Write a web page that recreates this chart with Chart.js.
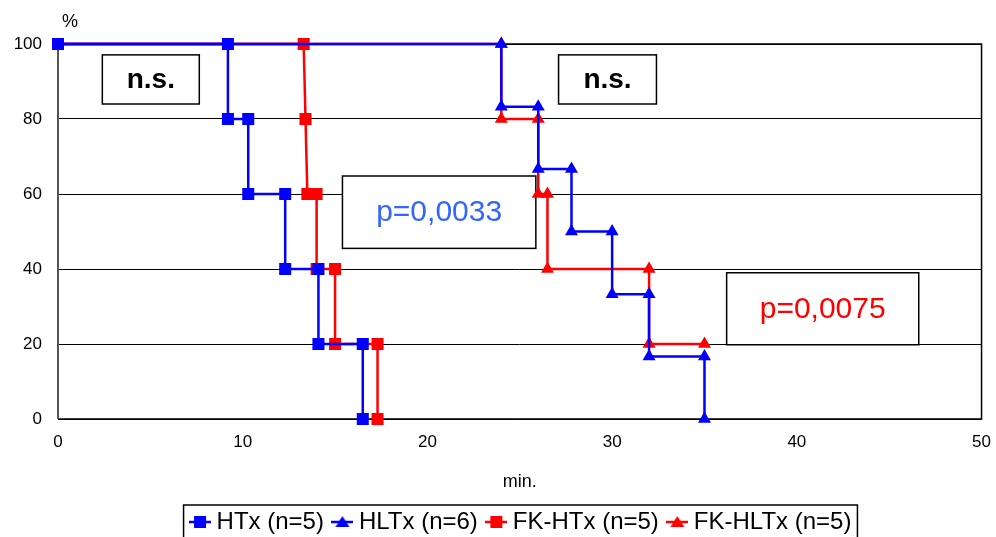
<!DOCTYPE html>
<html>
<head>
<meta charset="utf-8">
<script src="https://cdn.jsdelivr.net/npm/chart.js@4.4.1/dist/chart.umd.min.js"></script>
<style>
  html, body { margin: 0; padding: 0; background: #fff; }
  #wrap { width: 996px; height: 537px; }
</style>
</head>
<body>
<div id="wrap"><canvas id="km"></canvas></div>
<script>
// Kaplan-Meier Stufen: jeder Eckpunkt als (Zeit, Prozent)
const htxTime = [0, 9.2, 9.2, 10.3, 10.3, 12.3, 12.3, 14.1, 14.1, 16.5, 16.5];
const htxSurv = [100, 100, 80, 80, 60, 60, 40, 40, 20, 20, 0];

const hltxTime = [0, 24, 24, 26, 26, 27.8, 27.8, 30, 30, 32, 32, 35, 35];
const hltxSurv = [100, 100, 83.3, 83.3, 66.7, 66.7, 50, 50, 33.3, 33.3, 16.7, 16.7, 0];

const fkHtxTime = [0, 13.3, 13.4, 13.5, 14.0, 14.0, 15.0, 15.0, 17.3, 17.3];
const fkHtxSurv = [100, 100, 80, 60, 60, 40, 40, 20, 20, 0];

const fkHltxTime = [0, 24, 24, 26, 26, 26.5, 26.5, 32, 32, 35];
const fkHltxSurv = [100, 100, 80, 80, 60, 60, 40, 40, 20, 20];

const seriesNames = ["HTx (n=5)", "HLTx (n=6)", "FK-HTx (n=5)", "FK-HLTx (n=5)"];
const xTicks = [0, 10, 20, 30, 40, 50];
const yTicks = [0, 20, 40, 60, 80, 100];

const BLUE = "#0000ff";
const RED = "#ff0000";
const FONT = "Liberation Sans, Arial, sans-serif";

function toPoints(xs, ys) {
    return xs.map((x, i) => ({ x: x, y: ys[i] }));
}

// kleines Legendensymbol: Linie mit Marker
function legendIcon(color, shape) {
    const c = document.createElement("canvas");
    c.width = 22; c.height = 16;
    const g = c.getContext("2d");
    g.strokeStyle = color;
    g.lineWidth = 2.5;
    g.beginPath(); g.moveTo(0, 8); g.lineTo(22, 8); g.stroke();
    g.fillStyle = color;
    if (shape === "rect") {
        g.fillRect(5, 2, 12, 12);
    } else {
        g.beginPath(); g.moveTo(11, 2); g.lineTo(18, 13); g.lineTo(4, 13); g.closePath(); g.fill();
    }
    return c;
}

// Textkästen (Lage in Datenkoordinaten)
const boxes = [
    { x0: 2.4, x1: 7.65, y0: 97.1, y1: 84.0, text: "n.s.", color: "#000", font: "bold 28px " + FONT },
    { x0: 27.1, x1: 32.4, y0: 97.1, y1: 84.0, text: "n.s.", color: "#000", font: "bold 28px " + FONT },
    { x0: 15.4, x1: 25.87, y0: 64.8, y1: 45.5, text: "p=0,0033", color: "#3366ff", font: "30px " + FONT },
    { x0: 36.2, x1: 46.6, y0: 39.0, y1: 19.8, text: "p=0,0075", color: RED, font: "30px " + FONT }
];

const framePlugin = {
    id: "frame",
    afterLayout(chart) {
        // Legende etwas nach rechts, mittig unter der Zeichenfläche
        if (chart.legend) {
            chart.legend.left += 29;
            chart.legend.right += 29;
        }
    },
    beforeDatasetsDraw(chart) {
        const { ctx, chartArea: a, scales: { x, y } } = chart;
        ctx.save();
        ctx.strokeStyle = "#000";
        ctx.lineWidth = 1.5;
        ctx.beginPath();
        ctx.moveTo(a.left, a.top); ctx.lineTo(a.right, a.top); ctx.lineTo(a.right, a.bottom); ctx.lineTo(a.left, a.bottom);
        ctx.stroke();
        ctx.strokeStyle = "#555";
        ctx.lineWidth = 2;
        ctx.beginPath(); ctx.moveTo(a.left, a.top); ctx.lineTo(a.left, a.bottom); ctx.stroke();

        boxes.forEach(b => {
            const l = x.getPixelForValue(b.x0), r = x.getPixelForValue(b.x1);
            const t = y.getPixelForValue(b.y0), bt = y.getPixelForValue(b.y1);
            ctx.fillStyle = "#fff";
            ctx.fillRect(l, t, r - l, bt - t);
            ctx.strokeStyle = "#000";
            ctx.lineWidth = 1.5;
            ctx.strokeRect(l, t, r - l, bt - t);
            ctx.fillStyle = b.color;
            ctx.font = b.font;
            ctx.textAlign = "center";
            ctx.textBaseline = "middle";
            ctx.fillText(b.text, (l + r) / 2, (t + bt) / 2 + 1);
        });

        // "%" über der y-Achse
        ctx.fillStyle = "#000";
        ctx.font = "18px " + FONT;
        ctx.textAlign = "center";
        ctx.textBaseline = "middle";
        ctx.fillText("%", a.left + 12, a.top - 22);
        ctx.restore();
    },
    afterDraw(chart) {
        const lg = chart.legend;
        if (!lg || !lg.legendHitBoxes.length) return;
        const hb = lg.legendHitBoxes;
        const left = hb[0].left - 12;
        const right = hb[hb.length - 1].left + hb[hb.length - 1].width + 6;
        const top = hb[0].top - 5;
        const ctx = chart.ctx;
        ctx.save();
        ctx.strokeStyle = "#000";
        ctx.lineWidth = 1.5;
        ctx.strokeRect(left, top, right - left, 60);
        ctx.restore();
    }
};

const icons = [legendIcon(BLUE, "rect"), legendIcon(BLUE, "tri"), legendIcon(RED, "rect"), legendIcon(RED, "tri")];

function ds(i, xs, ys, color, shape) {
    return {
        label: seriesNames[i],
        data: toPoints(xs, ys),
        borderColor: color,
        backgroundColor: color,
        borderWidth: 2.5,
        pointStyle: shape === "rect" ? "rect" : "triangle",
        pointRadius: shape === "rect" ? 8.5 : (c => c.dataIndex === 0 ? 0 : 7.5),
        pointBorderWidth: 0,
        pointHoverRadius: shape === "rect" ? 8.5 : 7.5,
        tension: 0,
        fill: false,
        clip: false
    };
}

new Chart(document.getElementById("km"), {
    type: "line",
    data: {
        datasets: [
            ds(0, htxTime, htxSurv, BLUE, "rect"),
            ds(1, hltxTime, hltxSurv, BLUE, "tri"),
            ds(2, fkHtxTime, fkHtxSurv, RED, "rect"),
            ds(3, fkHltxTime, fkHltxSurv, RED, "tri")
        ]
    },
    options: {
        responsive: true,
        maintainAspectRatio: false,
        animation: false,
        layout: { padding: { top: 44, right: 7, left: 0, bottom: -7 } },
        plugins: {
            tooltip: { enabled: false },
            legend: {
                position: "bottom",
                labels: {
                    usePointStyle: true,
                    boxWidth: 9,
                    boxHeight: 16,
                    padding: 14,
                    color: "#000",
                    font: { family: FONT, size: 24 },
                    generateLabels: (chart) => chart.data.datasets.map((d, i) => ({
                        text: d.label,
                        pointStyle: icons[i],
                        fillStyle: d.borderColor,
                        strokeStyle: d.borderColor,
                        lineWidth: 0,
                        datasetIndex: i,
                        hidden: false
                    }))
                }
            }
        },
        scales: {
            x: {
                type: "linear",
                min: 0, max: 50,
                afterBuildTicks: s => { s.ticks = xTicks.map(v => ({ value: v })); },
                afterFit: s => { s.height = 77; },
                grid: { display: false },
                border: { display: false },
                ticks: { color: "#000", font: { family: FONT, size: 17 }, padding: 5 },
                title: { display: true, text: "min.", color: "#000", font: { family: FONT, size: 18 }, padding: { top: 0, bottom: 3 } }
            },
            y: {
                min: 0, max: 100,
                afterBuildTicks: s => { s.ticks = yTicks.map(v => ({ value: v })); },
                afterFit: s => { s.width = 58; },
                grid: { color: "#000", lineWidth: 1, drawTicks: false },
                border: { display: false },
                ticks: { color: "#000", font: { family: FONT, size: 17 }, padding: 16 }
            }
        }
    },
    plugins: [framePlugin]
});
</script>
</body>
</html>
